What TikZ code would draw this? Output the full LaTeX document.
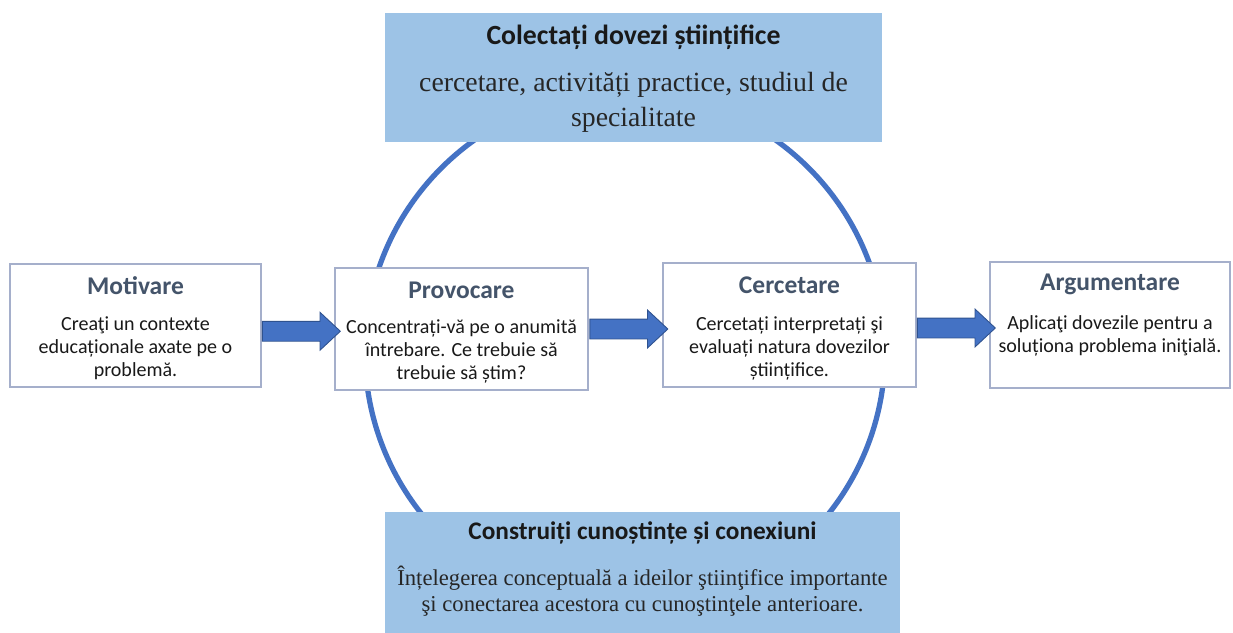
\documentclass[tikz,border=0pt]{standalone}
\usepackage{fontspec}
\setmainfont{Liberation Serif}
\newfontfamily\calibri{Carlito}
\usetikzlibrary{shapes.arrows}

\definecolor{boxblue}{HTML}{9DC3E6}
\definecolor{ringblue}{HTML}{4472C4}
\definecolor{arrowedge}{HTML}{2F528F}
\definecolor{titlegray}{HTML}{44546A}
\definecolor{edgegray}{HTML}{A5AFCB}

\begin{document}
\begin{tikzpicture}[
  stage/.style={draw=edgegray, line width=0.7pt, fill=white, inner sep=0pt},
  stagetitle/.style={font=\calibri\fontsize{14.5}{17}\selectfont\bfseries, text=titlegray},
  stagetext/.style={font=\calibri\fontsize{11.4}{13}\selectfont, text=black!90, align=center},
  bluebox/.style={fill=boxblue, inner sep=0pt},
  boxtitle/.style={font=\calibri\fontsize{15.8}{18}\selectfont\bfseries, text=black!90},
  boxtext/.style={align=center, text=black!85},
  blockarrow/.style={single arrow, fill=ringblue, draw=arrowedge, line width=0.5pt,
    inner xsep=0pt, inner ysep=0.19cm, minimum height=1.56cm,
    single arrow head extend=0.18cm, single arrow tip angle=86}
]
\useasboundingbox (0,0) rectangle (24.66,-12.64);

% the ring behind everything
\draw[ringblue, line width=3pt] (12.5,-7.04) circle (5.2);

% top box
\node[bluebox, minimum width=9.94cm, minimum height=2.58cm] (evid) at (12.67,-1.55) {};
\node[boxtitle] (evidT) at ([yshift=-0.5cm]evid.north) {Colectați dovezi științifice};
\node[boxtext, font=\fontsize{15.8}{20}\selectfont] (evidB) at ([yshift=-1.79cm]evid.north)
  {cercetare, activități practice, studiul de\\specialitate};

% bottom box
\node[bluebox, minimum width=10.3cm, minimum height=2.56cm] (know) at (12.85,-11.52) {};
\node[boxtitle, font=\calibri\fontsize{14.4}{17}\selectfont\bfseries] (knowT) at ([yshift=-0.42cm]know.north)
  {Construiți cunoștințe și conexiuni};
\node[boxtext, font=\fontsize{12.9}{15.3}\selectfont] (knowB) at ([yshift=-1.59cm]know.north)
  {Înțelegerea conceptuală a ideilor ştiinţifice importante\\şi conectarea acestora cu cunoştinţele anterioare.};

% the four stages
\node[stage, minimum width=5.02cm, minimum height=2.46cm] (mot) at (2.71,-6.51) {};
\node[stagetitle] (motT) at ([yshift=-0.45cm]mot.north) {Motivare};
\node[stagetext] (motB) at ([yshift=-1.7cm]mot.north) {Creaţi un contexte\\educaționale axate pe o\\problemă.};

\node[stage, minimum width=5.06cm, minimum height=2.44cm] (prov) at (9.23,-6.58) {};
\node[stagetitle] (provT) at ([yshift=-0.45cm]prov.north) {Provocare};
\node[stagetext] (provB) at ([yshift=-1.68cm]prov.north) {Concentrați-vă pe o anumită\\întrebare. Ce trebuie să\\trebuie să știm?};

\node[stage, minimum width=5.06cm, minimum height=2.48cm] (cerc) at (15.79,-6.5) {};
\node[stagetitle] (cercT) at ([yshift=-0.46cm]cerc.north) {Cercetare};
\node[stagetext] (cercB) at ([yshift=-1.72cm]cerc.north) {Cercetați interpretați şi\\evaluați natura dovezilor\\științifice.};

\node[stage, minimum width=4.8cm, minimum height=2.52cm] (arg) at (22.2,-6.5) {};
\node[stagetitle] (argT) at ([yshift=-0.46cm]arg.north) {Argumentare};
\node[stagetext] (argB) at ([yshift=-1.49cm]arg.north) {Aplicaţi dovezile pentru a\\soluționa problema iniţială.};

% block arrows between stages
\path (mot.east) -- (prov.west) node[midway, blockarrow, yshift=-0.08cm, xshift=-0.04cm] (a1) {};
\path (prov.east) -- (cerc.west) node[midway, blockarrow, yshift=-0.04cm, xshift=-0.04cm] (a2) {};
\path (cerc.east) -- (arg.west) node[midway, blockarrow, yshift=-0.06cm, xshift=-0.04cm] (a3) {};
\end{tikzpicture}
\end{document}
